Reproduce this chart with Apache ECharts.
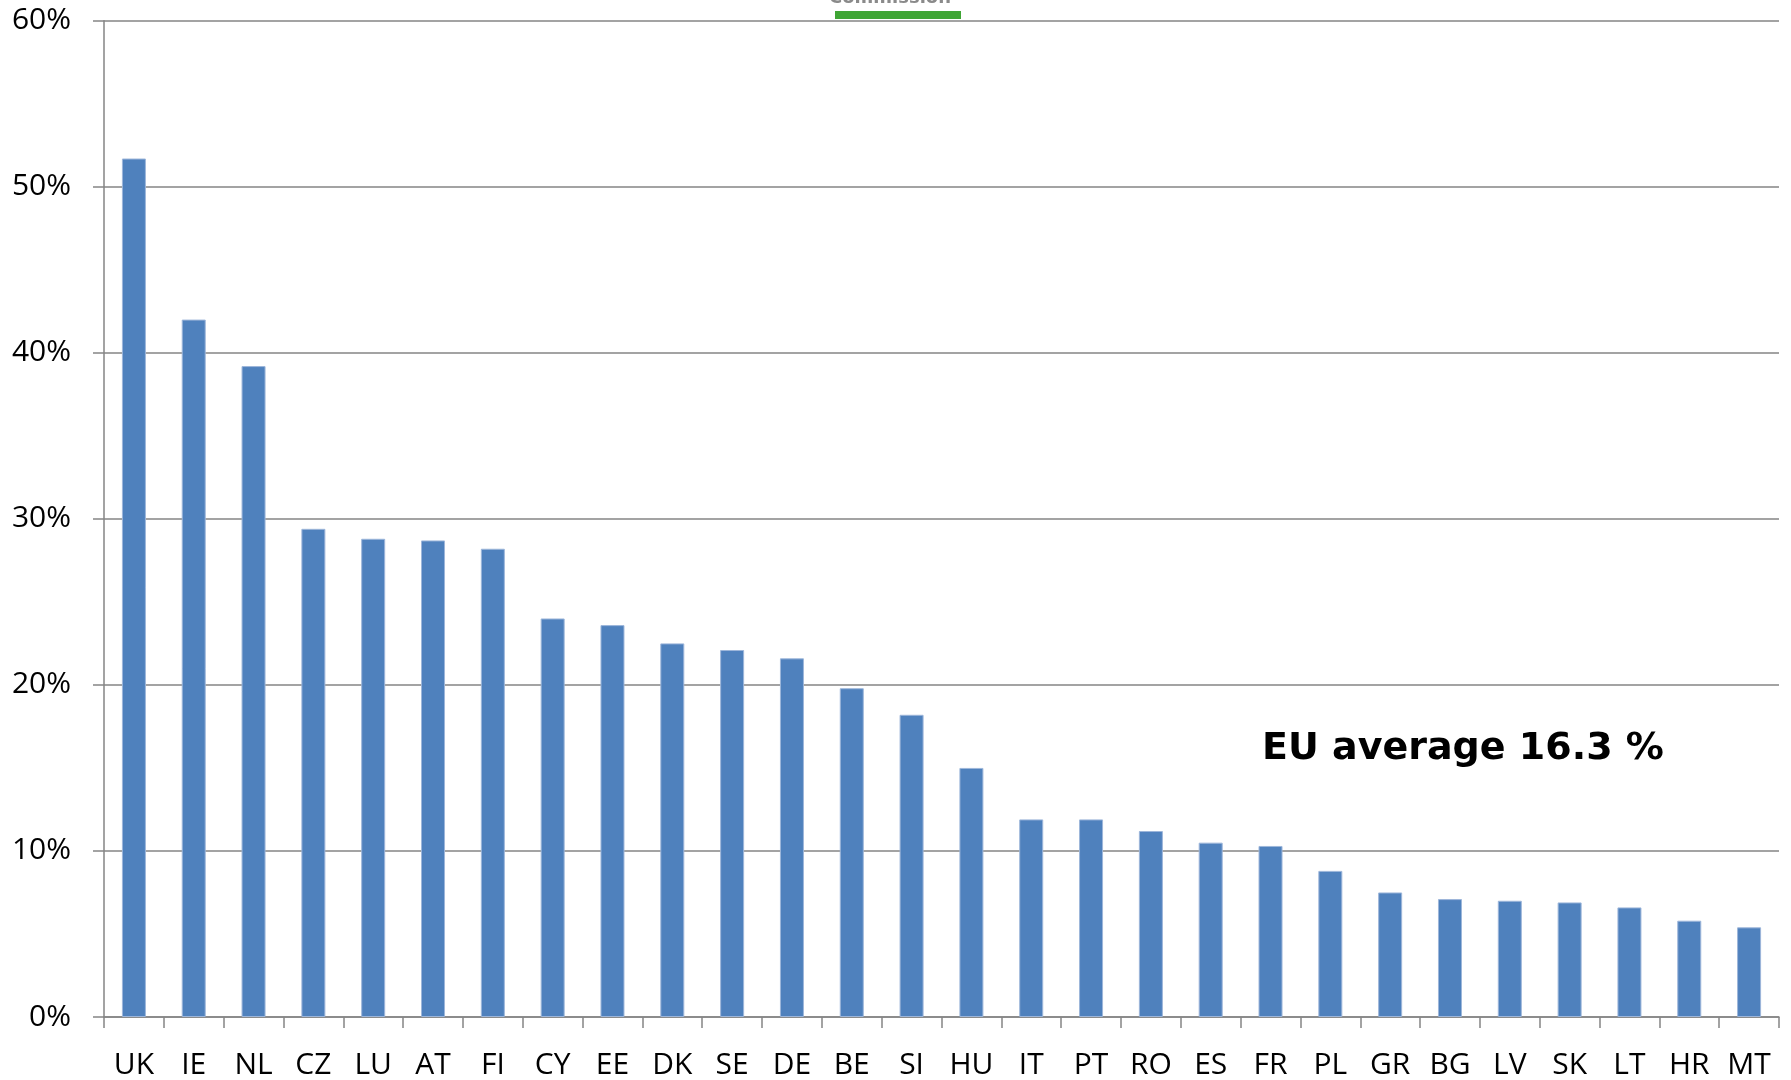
<!DOCTYPE html>
<html>
<head>
<meta charset="utf-8">
<script src="https://cdn.jsdelivr.net/npm/echarts@6/dist/echarts.min.js"></script>
<style>
html,body{margin:0;padding:0;background:#fff;}
#chart{width:1791px;height:1080px;}
</style>
</head>
<body>
<div id="chart"></div>
<script>
const countries = ['UK','IE','NL','CZ','LU','AT','FI','CY','EE','DK','SE','DE','BE','SI','HU','IT','PT','RO','ES','FR','PL','GR','BG','LV','SK','LT','HR','MT'];
const shares = [51.7,42.0,39.2,29.4,28.8,28.7,28.2,24.0,23.6,22.5,22.1,21.6,19.8,18.2,15.0,11.9,11.9,11.2,10.5,10.3,8.8,7.5,7.1,7.0,6.9,6.6,5.8,5.4];
const yTicks = {min: 0, max: 60, interval: 10};
const annotation = 'EU average 16.3 %';
const logoText = 'Commission';

const gray = '#858585';
const chart = echarts.init(document.getElementById('chart'), null, {renderer: 'canvas'});
chart.setOption({
  animation: false,
  backgroundColor: '#ffffff',
  grid: {left: 104, right: 12, top: 20.7, bottom: 62, containLabel: false},
  xAxis: {
    type: 'category',
    data: countries,
    boundaryGap: true,
    axisLine: {show: true, lineStyle: {color: gray, width: 1.5}},
    axisTick: {show: true, length: 11, interval: 0, lineStyle: {color: gray, width: 1.5}},
    axisLabel: {interval: 0, margin: 33, color: '#000', fontFamily: 'Open Sans', fontSize: 30}
  },
  yAxis: {
    type: 'value',
    min: yTicks.min, max: yTicks.max, interval: yTicks.interval,
    axisLine: {show: true, lineStyle: {color: gray, width: 1.5}},
    axisTick: {show: true, length: 11, lineStyle: {color: gray, width: 1.5}},
    axisLabel: {formatter: '{value}%', margin: 33, color: '#000', fontFamily: 'Open Sans', fontSize: 30},
    splitLine: {show: true, lineStyle: {color: gray, width: 1.5}}
  },
  series: [{
    type: 'bar',
    data: shares,
    barWidth: 24,
    itemStyle: {color: '#4F81BD', borderColor: '#9DB6DA', borderWidth: 1}
  }],
  graphic: [
    {type: 'rect', shape: {x: 835, y: 11, width: 126, height: 8}, style: {fill: '#3FA535'}},
    {type: 'text', x: 890, y: 7, style: {text: logoText, fill: '#8a8a8a', font: 'bold 18px "DejaVu Sans"', align: 'center', verticalAlign: 'bottom'}},
    {type: 'text', x: 1262, y: 749, style: {text: annotation, fill: '#000', font: 'bold 38px "DejaVu Sans"', align: 'left', verticalAlign: 'middle'}}
  ]
});
</script>
</body>
</html>
